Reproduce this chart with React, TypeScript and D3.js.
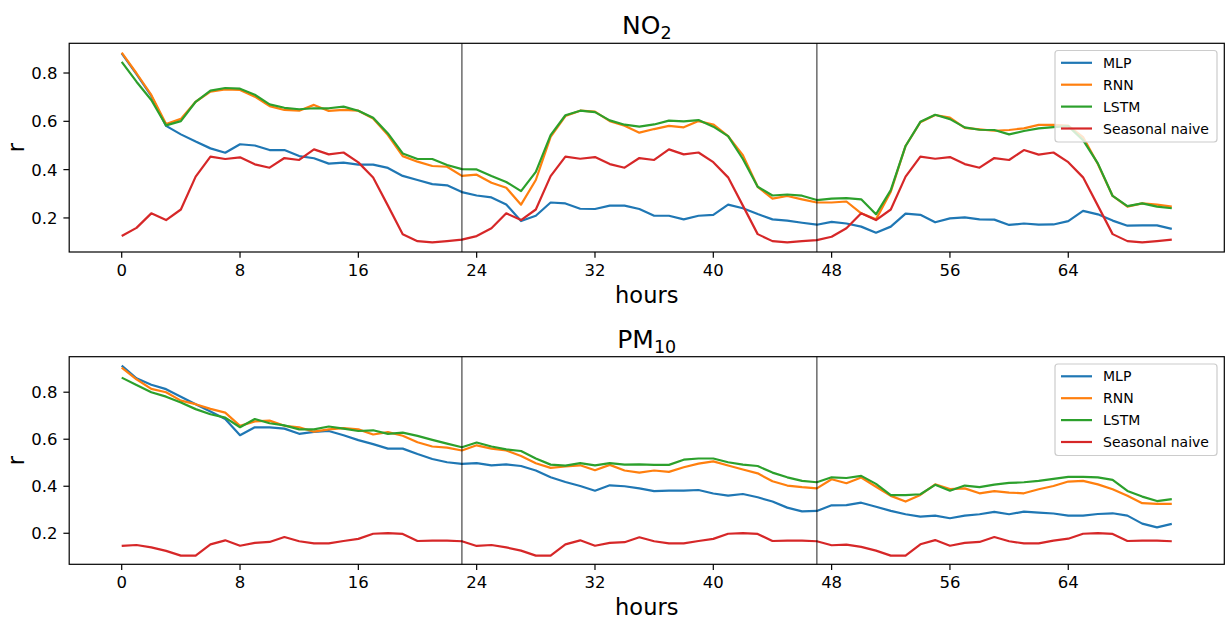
import React from "react";
import * as d3 from "d3";

const hours = d3.range(0, 72);
const xTicks = [0, 8, 16, 24, 32, 40, 48, 56, 64];
const yTicks = [0.2, 0.4, 0.6, 0.8];
const vLines = [23, 47];
const seriesNames = ["MLP", "RNN", "LSTM", "Seasonal naive"];
const seriesColors = ["#1f77b4", "#ff7f0e", "#2ca02c", "#d62728"];

const mlpNO2 = [0.881, 0.795, 0.705, 0.581, 0.546, 0.516, 0.488, 0.470, 0.505, 0.500, 0.481, 0.481, 0.456, 0.447, 0.425, 0.429, 0.421, 0.421, 0.407, 0.374, 0.357, 0.340, 0.335, 0.307,
  0.293, 0.285, 0.256, 0.187, 0.209, 0.264, 0.260, 0.238, 0.237, 0.251, 0.251, 0.237, 0.209, 0.209, 0.194, 0.209, 0.213, 0.255, 0.240, 0.216, 0.194, 0.189, 0.180, 0.172,
  0.184, 0.177, 0.164, 0.139, 0.164, 0.218, 0.213, 0.182, 0.198, 0.202, 0.194, 0.193, 0.171, 0.177, 0.172, 0.173, 0.187, 0.229, 0.215, 0.189, 0.168, 0.169, 0.169, 0.155];
const rnnNO2 = [0.884, 0.799, 0.709, 0.589, 0.610, 0.681, 0.723, 0.732, 0.730, 0.702, 0.663, 0.647, 0.644, 0.668, 0.643, 0.647, 0.644, 0.612, 0.543, 0.456, 0.433, 0.415, 0.412, 0.374,
  0.379, 0.346, 0.325, 0.255, 0.357, 0.536, 0.622, 0.644, 0.640, 0.601, 0.582, 0.553, 0.568, 0.581, 0.575, 0.601, 0.587, 0.539, 0.460, 0.329, 0.280, 0.291, 0.277, 0.264,
  0.264, 0.268, 0.219, 0.194, 0.309, 0.498, 0.596, 0.626, 0.615, 0.573, 0.567, 0.561, 0.564, 0.571, 0.585, 0.585, 0.582, 0.535, 0.423, 0.291, 0.247, 0.260, 0.255, 0.247];
const lstmNO2 = [0.846, 0.764, 0.688, 0.583, 0.601, 0.681, 0.727, 0.738, 0.735, 0.710, 0.670, 0.656, 0.650, 0.654, 0.654, 0.661, 0.644, 0.615, 0.550, 0.467, 0.444, 0.444, 0.419, 0.402,
  0.401, 0.374, 0.349, 0.311, 0.391, 0.543, 0.625, 0.644, 0.638, 0.604, 0.586, 0.578, 0.587, 0.603, 0.600, 0.605, 0.578, 0.539, 0.444, 0.329, 0.293, 0.297, 0.292, 0.274,
  0.280, 0.282, 0.277, 0.215, 0.315, 0.498, 0.598, 0.627, 0.609, 0.575, 0.565, 0.564, 0.546, 0.560, 0.571, 0.576, 0.580, 0.522, 0.426, 0.291, 0.249, 0.260, 0.247, 0.240];
const naiveNO2 = [0.125, 0.159, 0.219, 0.191, 0.235, 0.371, 0.454, 0.444, 0.451, 0.422, 0.408, 0.448, 0.440, 0.484, 0.463, 0.471, 0.430, 0.367, 0.251, 0.132, 0.104, 0.099, 0.104, 0.110,
  0.125, 0.157, 0.219, 0.191, 0.235, 0.373, 0.454, 0.445, 0.452, 0.423, 0.408, 0.448, 0.440, 0.484, 0.463, 0.471, 0.431, 0.368, 0.251, 0.133, 0.104, 0.099, 0.104, 0.108,
  0.122, 0.157, 0.219, 0.191, 0.235, 0.371, 0.454, 0.445, 0.452, 0.423, 0.408, 0.448, 0.440, 0.481, 0.462, 0.471, 0.431, 0.368, 0.251, 0.133, 0.104, 0.099, 0.104, 0.110];

const mlpPM = [0.913, 0.859, 0.832, 0.813, 0.781, 0.749, 0.718, 0.686, 0.617, 0.651, 0.650, 0.645, 0.623, 0.631, 0.635, 0.617, 0.596, 0.579, 0.560, 0.560, 0.537, 0.516, 0.502, 0.495,
  0.498, 0.489, 0.493, 0.486, 0.467, 0.438, 0.418, 0.401, 0.381, 0.404, 0.400, 0.391, 0.379, 0.381, 0.381, 0.384, 0.369, 0.360, 0.367, 0.353, 0.335, 0.309, 0.293, 0.295,
  0.319, 0.320, 0.330, 0.313, 0.295, 0.281, 0.271, 0.275, 0.264, 0.275, 0.281, 0.291, 0.281, 0.292, 0.288, 0.284, 0.275, 0.275, 0.282, 0.285, 0.275, 0.241, 0.225, 0.240];
const rnnPM = [0.905, 0.855, 0.814, 0.800, 0.764, 0.749, 0.729, 0.713, 0.657, 0.676, 0.679, 0.657, 0.651, 0.632, 0.642, 0.647, 0.642, 0.620, 0.630, 0.615, 0.587, 0.569, 0.564, 0.552,
  0.574, 0.560, 0.552, 0.529, 0.498, 0.478, 0.484, 0.489, 0.468, 0.491, 0.467, 0.458, 0.467, 0.461, 0.481, 0.496, 0.506, 0.488, 0.471, 0.455, 0.421, 0.403, 0.396, 0.391,
  0.430, 0.413, 0.437, 0.398, 0.359, 0.335, 0.363, 0.408, 0.388, 0.391, 0.370, 0.379, 0.373, 0.370, 0.387, 0.401, 0.420, 0.423, 0.408, 0.387, 0.360, 0.328, 0.325, 0.325];
const lstmPM = [0.862, 0.831, 0.800, 0.781, 0.756, 0.728, 0.706, 0.692, 0.651, 0.686, 0.668, 0.659, 0.642, 0.642, 0.654, 0.645, 0.635, 0.638, 0.623, 0.628, 0.614, 0.597, 0.581, 0.566,
  0.586, 0.569, 0.557, 0.550, 0.518, 0.492, 0.488, 0.498, 0.489, 0.498, 0.492, 0.493, 0.491, 0.491, 0.513, 0.518, 0.518, 0.502, 0.492, 0.486, 0.458, 0.438, 0.423, 0.417,
  0.438, 0.435, 0.444, 0.410, 0.362, 0.362, 0.366, 0.406, 0.381, 0.403, 0.396, 0.407, 0.414, 0.417, 0.423, 0.431, 0.440, 0.440, 0.438, 0.427, 0.380, 0.356, 0.337, 0.345];
const naivePM = [0.146, 0.150, 0.140, 0.125, 0.105, 0.105, 0.153, 0.170, 0.147, 0.159, 0.163, 0.184, 0.166, 0.157, 0.157, 0.167, 0.176, 0.198, 0.201, 0.197, 0.167, 0.169, 0.169, 0.166,
  0.146, 0.150, 0.140, 0.126, 0.105, 0.105, 0.153, 0.170, 0.147, 0.159, 0.162, 0.183, 0.166, 0.157, 0.157, 0.167, 0.176, 0.198, 0.201, 0.197, 0.167, 0.169, 0.169, 0.166,
  0.149, 0.152, 0.142, 0.126, 0.105, 0.105, 0.153, 0.171, 0.147, 0.159, 0.163, 0.184, 0.166, 0.157, 0.157, 0.169, 0.177, 0.198, 0.201, 0.197, 0.167, 0.169, 0.169, 0.166];

const FONT = "DejaVu Sans, sans-serif";

type PanelProps = {
  top: number;
  bottom: number;
  yDomain: [number, number];
  series: number[][];
  title: string;
  sub: string;
  legendTop: number;
};

const LEFT = 69.2;
const RIGHT = 1224.3;

function Panel({ top, bottom, yDomain, series, title, sub, legendTop }: PanelProps) {
  const x = d3.scaleLinear().domain([-3.55, 74.55]).range([LEFT, RIGHT]);
  const y = d3.scaleLinear().domain(yDomain).range([bottom, top]);
  const line = d3
    .line<number>()
    .x((_, i) => x(hours[i]))
    .y((d) => y(d));
  const cx = (LEFT + RIGHT) / 2;
  const tickLen = 5.8;
  return (
    <g>
      <text x={cx} y={top - 9} textAnchor="middle" fontFamily={FONT} fontSize={25} fill="#000">
        {title}
        <tspan fontSize={17.5} dy={5}>{sub}</tspan>
      </text>
      {series.map((s, k) => (
        <path key={k} d={line(s) || ""} fill="none" stroke={seriesColors[k]} strokeWidth={2.2} strokeLinejoin="round" />
      ))}
      {vLines.map((v) => (
        <line key={v} x1={x(v)} x2={x(v)} y1={top} y2={bottom} stroke="#000" strokeOpacity={0.55} strokeWidth={1.6} />
      ))}
      <rect x={LEFT} y={top} width={RIGHT - LEFT} height={bottom - top} fill="none" stroke="#000" strokeWidth={1.2} />
      {xTicks.map((t) => (
        <g key={t}>
          <line x1={x(t)} x2={x(t)} y1={bottom} y2={bottom + tickLen} stroke="#000" strokeWidth={1.2} />
          <text x={x(t)} y={bottom + 23.6} textAnchor="middle" fontFamily={FONT} fontSize={16.5} fill="#000">
            {t}
          </text>
        </g>
      ))}
      {yTicks.map((t) => (
        <g key={t}>
          <line x1={LEFT} x2={LEFT - tickLen} y1={y(t)} y2={y(t)} stroke="#000" strokeWidth={1.2} />
          <text x={LEFT - 11.6} y={y(t)} dy="0.36em" textAnchor="end" fontFamily={FONT} fontSize={16.5} fill="#000">
            {t.toFixed(1)}
          </text>
        </g>
      ))}
      <text x={cx} y={bottom + 50.5} textAnchor="middle" fontFamily={FONT} fontSize={22.5} fill="#000">
        hours
      </text>
      <text
        transform={`translate(23.5, ${(top + bottom) / 2}) rotate(-90)`}
        textAnchor="middle"
        fontFamily={FONT}
        fontSize={22.5}
        fill="#000"
      >
        r
      </text>
      <g>
        <rect x={1055} y={legendTop} width={162} height={91.5} rx={3} fill="#fff" fillOpacity={0.8} stroke="#cccccc" strokeWidth={1.2} />
        {seriesNames.map((n, k) => {
          const ry = legendTop + 12.3 + k * 21.9;
          return (
            <g key={n}>
              <line x1={1061} x2={1092} y1={ry} y2={ry} stroke={seriesColors[k]} strokeWidth={2.2} />
              <text x={1103} y={ry} dy="0.36em" fontFamily={FONT} fontSize={14} fill="#000">
                {n}
              </text>
            </g>
          );
        })}
      </g>
    </g>
  );
}

export default function App() {
  return (
    <svg width={1225} height={619} style={{ position: "absolute", left: 0, top: 0, background: "#fff" }}>
      <rect x={0} y={0} width={1225} height={619} fill="#fff" />
      <Panel top={43.3} bottom={252} yDomain={[0.059, 0.923]} series={[mlpNO2, rnnNO2, lstmNO2, naiveNO2]} title="NO" sub="2" legendTop={50.5} />
      <Panel top={356.7} bottom={564.3} yDomain={[0.068, 0.951]} series={[mlpPM, rnnPM, lstmPM, naivePM]} title="PM" sub="10" legendTop={364} />
    </svg>
  );
}
